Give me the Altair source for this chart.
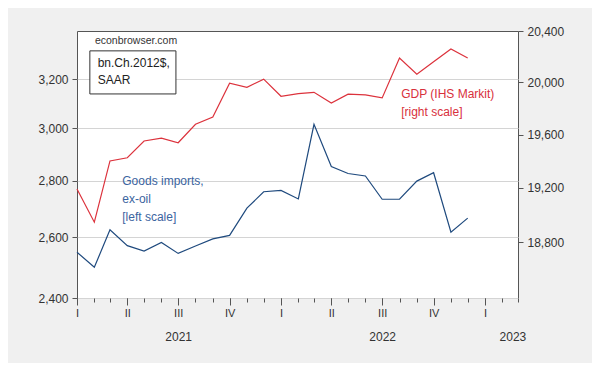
import altair as alt
import pandas as pd

# ---- data ----
MONTHS = [f"{y}-{m:02d}-01" for y in (2021, 2022) for m in range(1, 13)]
IMPORTS = [2549, 2499, 2625, 2571, 2553, 2582, 2545, 2570, 2594, 2606, 2701, 2760,
           2765, 2734, 3016, 2853, 2827, 2818, 2733, 2733, 2799, 2830, 2617, 2666]
GDP = [19192, 18947, 19401, 19425, 19551, 19572, 19538, 19678, 19733, 19992, 19961, 20024,
       19892, 19912, 19922, 19840, 19908, 19902, 19879, 20188, 20062, 20159, 20259, 20188]

QUARTER_TICKS = ["2021-01-01", "2021-04-01", "2021-07-01", "2021-10-01",
                 "2022-01-01", "2022-04-01", "2022-07-01", "2022-10-01", "2023-01-01"]
MONTH_TICKS = [f"{y}-{m:02d}-01" for y in (2021, 2022) for m in range(1, 13)] + \
              ["2023-01-01", "2023-02-01", "2023-03-01"]
YEAR_TICKS = ["2021-07-01", "2022-07-01", "2023-02-19"]
X_DOMAIN = ["2021-01-01", "2023-03-01"]
LEFT_TICKS = [2400, 2600, 2800, 3000, 3200]
RIGHT_TICKS = [18800, 19200, 19600, 20000, 20400]
LEFT_DOMAIN = [2400, 3410]
RIGHT_DOMAIN = [18400, 20400]

# annotation anchors (date, value on the relevant scale)
ECON_NOTE = {"date": ["2021-02-02"], "value": [3365], "text": ["econbrowser.com"]}
BOX = {"x": ["2021-01-24"], "x2": ["2021-06-27"], "y": [3139], "y2": [3322]}
BOX_TEXT = {"date": ["2021-02-07", "2021-02-07"], "value": [3269, 3197],
            "text": ["bn.Ch.2012$,", "SAAR"]}
BLUE_TEXT = {"date": ["2021-03-23"] * 3, "value": [2799, 2733, 2669],
             "text": ["Goods imports,", "ex-oil", "[left scale]"]}
RED_TEXT = {"date": ["2022-08-04"] * 2, "value": [19909, 19773],
            "text": ["GDP (IHS Markit)", "[right scale]"]}

BLUE = "#1f4a7e"
BLUE_T = "#3b64a0"
RED = "#dc323c"
RED_T = "#d8303c"
FONT = "Liberation Sans"


def ms(d):
    return int(pd.Timestamp(d, tz="UTC").timestamp() * 1000)


xscale = alt.Scale(type="utc", domain=[ms(d) for d in X_DOMAIN])
lscale = alt.Scale(type="log", domain=LEFT_DOMAIN, nice=False)
rscale = alt.Scale(type="log", domain=RIGHT_DOMAIN, nice=False)

df = pd.DataFrame({"date": MONTHS, "imports": IMPORTS, "gdp": GDP})

axis_q = alt.Axis(orient="bottom", values=[ms(d) for d in QUARTER_TICKS],
                  labelExpr="['I','II','III','IV'][floor(utcmonth(datum.value)/3)]",
                  tickSize=7, labelPadding=2, labelFontSize=11, grid=False,
                  labelFlush=False, labelOverlap=False, domain=False, title=None)
axis_m = alt.Axis(orient="bottom", values=[ms(d) for d in MONTH_TICKS], labels=False,
                  tickSize=4, grid=False, domain=False, title=None)
axis_y = alt.Axis(orient="bottom", values=[ms(d) for d in YEAR_TICKS],
                  labelExpr="utcFormat(datum.value, '%Y')", ticks=False, labelPadding=33,
                  labelFontSize=12, grid=False, labelFlush=False, labelOverlap=False,
                  domain=False, title=None)

imports_line = alt.Chart(df).mark_line(color=BLUE, strokeWidth=1.2).encode(
    x=alt.X("date:T", scale=xscale, axis=axis_q),
    y=alt.Y("imports:Q", scale=lscale,
            axis=alt.Axis(orient="left", values=LEFT_TICKS, format=",d", grid=True,
                          tickSize=5, labelPadding=4, domain=False, title=None)),
)

gdp_line = alt.Chart(df).mark_line(color=RED, strokeWidth=1.2).encode(
    x=alt.X("date:T", scale=xscale, axis=axis_m),
    y=alt.Y("gdp:Q", scale=rscale,
            axis=alt.Axis(orient="right", values=RIGHT_TICKS, format=",d", grid=False,
                          tickSize=5, labelPadding=4, domain=False, title=None)),
)

econ = alt.Chart(pd.DataFrame(ECON_NOTE)).mark_text(
    align="left", baseline="middle", font=FONT, fontSize=10.5, color="#333333"
).encode(
    x=alt.X("date:T", scale=xscale, axis=axis_y),
    y=alt.Y("value:Q", scale=lscale, axis=None),
    text="text:N",
)

box = alt.Chart(pd.DataFrame(BOX)).mark_rect(
    fill="white", stroke="#333333", strokeWidth=1
).encode(
    x=alt.X("x:T", scale=xscale, axis=None),
    x2="x2:T",
    y=alt.Y("y:Q", scale=lscale, axis=None),
    y2="y2:Q",
)

box_text = alt.Chart(pd.DataFrame(BOX_TEXT)).mark_text(
    align="left", baseline="middle", font=FONT, fontSize=12, color="#222222"
).encode(
    x=alt.X("date:T", scale=xscale, axis=None),
    y=alt.Y("value:Q", scale=lscale, axis=None),
    text="text:N",
)

blue_text = alt.Chart(pd.DataFrame(BLUE_TEXT)).mark_text(
    align="left", baseline="middle", font=FONT, fontSize=12, color=BLUE_T
).encode(
    x=alt.X("date:T", scale=xscale, axis=None),
    y=alt.Y("value:Q", scale=lscale, axis=None),
    text="text:N",
)

red_text = alt.Chart(pd.DataFrame(RED_TEXT)).mark_text(
    align="left", baseline="middle", font=FONT, fontSize=12, color=RED_T
).encode(
    x=alt.X("date:T", scale=xscale, axis=None),
    y=alt.Y("value:Q", scale=rscale, axis=None),
    text="text:N",
)

chart = alt.layer(
    imports_line, gdp_line, econ, box, box_text, blue_text, red_text
).resolve_scale(
    y="independent"
).resolve_axis(
    x="independent"
).properties(
    width=441, height=267,
    background="#f0f0f0",
    autosize=alt.AutoSizeParams(type="none"),
    padding={"left": 69, "top": 23, "right": 74, "bottom": 65},
).configure_view(
    stroke="#555555", strokeWidth=1, fill="white"
).configure_axis(
    labelFont=FONT, labelFontSize=12, labelColor="#333333",
    tickColor="#555555", gridColor="#d4d4d4", gridWidth=1
)

chart.save("out.html", embed_options={"renderer": "svg", "actions": False})
